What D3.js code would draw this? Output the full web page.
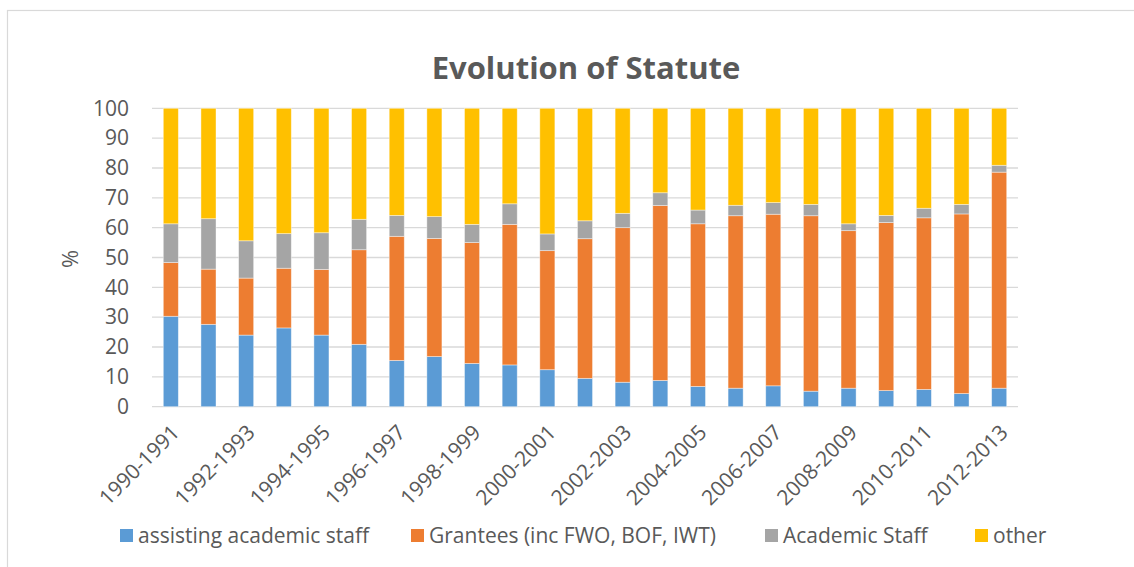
<!DOCTYPE html>
<html>
<head>
<meta charset="utf-8">
<script src="https://cdn.jsdelivr.net/npm/d3@7"></script>
<style>
  html, body { margin: 0; padding: 0; background: #fff; }
  svg { display: block; }
  text { font-family: "Open Sans", "Noto Sans", sans-serif; fill: #595959; }
</style>
</head>
<body>
<svg id="chart" width="1134" height="567"></svg>
<script>
const categories = ["1990-1991","1991-1992","1992-1993","1993-1994","1994-1995","1995-1996","1996-1997","1997-1998","1998-1999","1999-2000","2000-2001","2001-2002","2002-2003","2003-2004","2004-2005","2005-2006","2006-2007","2007-2008","2008-2009","2009-2010","2010-2011","2011-2012","2012-2013"];
const seriesNames = ["assisting academic staff","Grantees (inc FWO, BOF, IWT)","Academic Staff","other"];
const assisting = [30.3,27.6,24.0,26.4,24.0,20.9,15.5,16.8,14.5,14.0,12.4,9.5,8.2,8.8,6.8,6.2,7.0,5.2,6.2,5.4,5.8,4.4,6.2];
const grantees  = [18.0,18.5,19.1,20.0,22.0,31.7,41.6,39.6,40.5,47.1,39.9,46.8,51.8,58.6,54.5,57.8,57.5,58.8,52.8,56.3,57.5,60.2,72.4];
const academic  = [13.0,16.9,12.5,11.6,12.3,10.2,7.0,7.3,6.1,6.9,5.6,6.0,4.8,4.3,4.6,3.5,3.9,3.8,2.3,2.4,3.2,3.2,2.3];
const other     = [38.7,37.0,44.4,42.0,41.7,37.2,35.9,36.3,38.9,32.0,42.1,37.7,35.2,28.3,34.1,32.5,31.6,32.2,38.7,35.9,33.5,32.2,19.1];
const yTicks = [0,10,20,30,40,50,60,70,80,90,100];
const colors = ["#5B9BD5","#ED7D31","#A5A5A5","#FFC000"];
const titleText = "Evolution of Statute";
const yAxisTitle = "%";

(function(){
const svg = d3.select("#chart");

// chart border
svg.append("rect").attr("x",7.5).attr("y",10.5).attr("width",1140).attr("height",570)
  .attr("fill","none").attr("stroke","#d9d9d9").attr("stroke-width",1.2);

const pLeft = 152, pRight = 1018, pTop = 108.3, pBottom = 406.7;

const rows = categories.map((c,i)=>({cat:c, a:assisting[i], g:grantees[i], s:academic[i], o:other[i]}));
const keys = ["a","g","s","o"];
const stacked = d3.stack().keys(keys)(rows);

const x = d3.scaleBand().domain(categories).range([pLeft,pRight]).paddingInner(0.6).paddingOuter(0.3);
const y = d3.scaleLinear().domain([0,100]).range([pBottom, pTop]);

// gridlines
svg.append("g").selectAll("line").data(yTicks).join("line")
  .attr("x1", pLeft).attr("x2", pRight)
  .attr("y1", d=>y(d)).attr("y2", d=>y(d))
  .attr("stroke","#d9d9d9").attr("stroke-width",1.3);

// y axis labels
const yAxis = d3.axisLeft(y).tickValues(yTicks).tickSize(0).tickPadding(0);
const gy = svg.append("g").attr("transform",`translate(129,0)`).call(yAxis);
gy.select(".domain").remove();
gy.selectAll("text").attr("font-size","21px").attr("fill","#595959")
  .style("font-family","'Open Sans', sans-serif");

// bars
svg.append("g").selectAll("g").data(stacked).join("g")
  .attr("fill",(d,i)=>colors[i])
  .selectAll("rect").data(d=>d).join("rect")
  .attr("x", d=>x(d.data.cat))
  .attr("width", x.bandwidth())
  .attr("y", d=>y(d[1]))
  .attr("height", d=>y(d[0])-y(d[1]))
  .attr("stroke","#ffffff").attr("stroke-opacity",0.5).attr("stroke-width",0.8);

// x axis labels
const xAxis = d3.axisBottom(x).tickValues(categories.filter((c,i)=>i%2===0)).tickSize(0).tickPadding(0);
const gx = svg.append("g").attr("transform",`translate(0,${pBottom})`).call(xAxis);
gx.select(".domain").remove();
gx.selectAll("text")
  .attr("font-size","21px").attr("fill","#595959")
  .style("font-family","'Open Sans', sans-serif")
  .attr("text-anchor","end")
  .attr("dy",null).attr("y",0)
  .attr("transform","translate(10,27) rotate(-45)");

// title
svg.append("text").attr("x",586).attr("y",79).attr("text-anchor","middle")
  .attr("font-size","31px").attr("font-weight","bold").attr("fill","#595959")
  .text(titleText);

// y axis title
svg.append("text").attr("transform","translate(78,259) rotate(-90)").attr("text-anchor","middle")
  .attr("font-size","22px").attr("fill","#595959").text(yAxisTitle);

// legend
const legendX = [120, 411, 765, 975];
const lg = svg.append("g");
seriesNames.forEach((n,i)=>{
  lg.append("rect").attr("x",legendX[i]).attr("y",529).attr("width",13).attr("height",13).attr("fill",colors[i]);
  lg.append("text").attr("x",legendX[i]+18).attr("y",543).attr("font-size","21px").attr("fill","#595959").text(n);
});
})();
</script>
</body>
</html>
